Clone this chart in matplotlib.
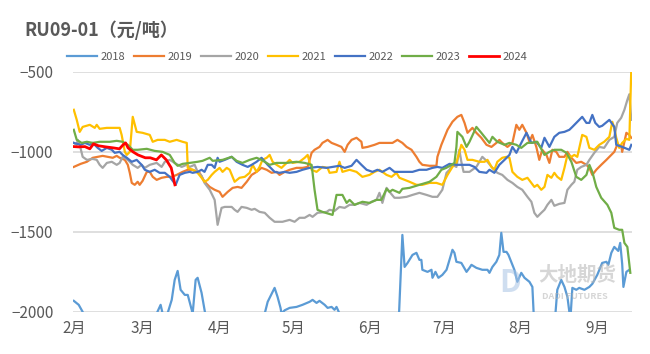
import matplotlib.pyplot as plt

plt.rcParams['font.family'] = ['Noto Sans CJK SC', 'DejaVu Sans']

# x = days since Feb 1, y = spread RU09-01 (yuan/ton)
days_2018 = [0, 2, 3.6, 6.5, 30.8, 33.6, 35.2, 36, 38, 39.7, 40.9, 42.1, 43.3, 45, 46.2, 47.8, 48.2, 49.4,
             50.2, 51.8, 53, 54.3, 63.2, 76, 77.4, 78.6, 81.4, 82.6, 83.8, 84.2, 85.5, 87.5, 90.3, 92.7,
             95.6, 96.8, 98.4, 99.6, 101.7, 102.9, 104.5, 105.7, 106.5, 107.7, 109.8, 128, 131.6, 133.2,
             134.1, 135.3, 137.3, 138.9, 140.1, 140.9, 141.3, 143.4, 145, 145.4, 146.6, 147.8, 149.4,
             151.1, 152.3, 153.5, 154.3, 155.1, 157.1, 159.2, 160.4, 161.2, 163.2, 165.6, 167.7, 168.5,
             169.7, 171.3, 172.5, 173.3, 174.2, 175.4, 176.2, 177.8, 178.6, 179.8, 181.4, 182.7, 184.7,
             185.9, 186.7, 190.8, 194.8, 196, 197.6, 198.9, 200.1, 201.3, 202.1, 203.7, 204.9, 207, 209,
             210.2, 212.2, 214.2, 215.9, 216.7, 217.9, 219.1, 220.7, 221.5, 222.3, 222.8, 224, 225.2]
vals_2018 = [-1931, -1956, -2000, -2150, -2200, -2010, -1956, -2010, -2010, -1925, -1800, -1744, -1862,
             -1894, -1894, -1987, -2010, -1800, -1787, -1881, -1987, -2100, -2200, -2100, -2010, -1937,
             -1850, -1906, -1975, -2010, -1990, -1975, -1969, -1956, -1937, -1925, -1944, -1931, -1956,
             -1975, -1969, -1987, -1969, -2010, -2100, -2200, -2100, -1519, -1719, -1694, -1644, -1631,
             -1675, -1675, -1737, -1750, -1737, -1787, -1750, -1787, -1769, -1737, -1675, -1612, -1631,
             -1687, -1694, -1750, -1725, -1706, -1725, -1737, -1737, -1756, -1719, -1687, -1644, -1506,
             -1625, -1625, -1644, -1706, -1737, -1812, -1756, -1787, -1812, -1844, -2100, -2150, -2100,
             -1862, -1800, -1844, -1906, -2050, -1850, -1862, -1850, -1862, -1844, -1825, -1769, -1694,
             -1687, -1706, -1631, -1594, -1619, -1569, -1700, -1844, -1750, -1737]

days_2019 = [0, 2.8, 5.3, 7.7, 9.7, 11.7, 13.8, 15.8, 17.4, 18.6, 20.7, 21.9, 22.7, 23.5, 24.7, 25.9, 26.7,
             27.9, 29.6, 30.8, 32, 33.6, 35.6, 37.7, 39.7, 41.7, 44.1, 46.2, 48.2, 50.2, 51, 53, 55.1, 57.1,
             59.1, 60.3, 62.4, 64.4, 66.4, 68, 70.1, 72.1, 74.1, 76.1, 78.2, 80.2, 82.2, 83.4, 85.5, 87.5,
             90.3, 92.7, 94.8, 96.4, 97.6, 99.6, 100.8, 102.9, 104.5, 106.5, 108.5, 109.8, 111, 112.6,
             114.6, 116.6, 117, 119.1, 121.9, 123.9, 126.8, 129.2, 131.2, 133.2, 134.9, 136.9, 138.9,
             140.1, 141.3, 144.2, 147, 147.4, 149, 151.5, 153.5, 155.5, 157.1, 158.4, 159.6, 161.6, 163.2,
             165.2, 167.3, 169.3, 171.3, 172.5, 173.7, 175.8, 177.8, 179.4, 180.6, 181.8, 183.5, 184.7,
             185.9, 187.5, 188.7, 189.9, 191.6, 192.8, 194, 195.6, 196.8, 198.9, 200.1, 201.7, 203.7,
             205.7, 207.8, 209, 210.2, 211.8, 213.8, 215.9, 217.9, 219.1, 220.3, 221.9, 222.3, 224, 225.2,
             226]
vals_2019 = [-1094, -1075, -1062, -1037, -1031, -1025, -1031, -1037, -1025, -1037, -1050, -1081, -1131,
             -1194, -1206, -1187, -1206, -1181, -1125, -1125, -1156, -1175, -1162, -1156, -1156, -1144,
             -1125, -1112, -1112, -1125, -1131, -1187, -1219, -1237, -1250, -1281, -1250, -1225, -1219,
             -1225, -1187, -1144, -1125, -1100, -1112, -1131, -1125, -1144, -1125, -1112, -1100, -1100,
             -1094, -1006, -987, -969, -944, -925, -944, -956, -969, -1000, -956, -925, -912, -937, -975,
             -969, -956, -944, -944, -944, -925, -944, -969, -987, -1031, -1062, -1081, -1087, -1087,
             -1031, -956, -862, -812, -781, -769, -819, -881, -850, -881, -912, -956, -969, -944, -925,
             -944, -969, -944, -831, -862, -831, -881, -937, -894, -969, -1050, -987, -1019, -1069, -987,
             -1000, -1031, -1031, -1000, -1037, -1069, -1062, -1081, -1100, -1144, -1112, -1081, -1050,
             -1019, -1000, -956, -962, -1000, -881, -894, -912]

days_2020 = [0, 1.2, 1.6, 2.4, 3.6, 5.3, 7.7, 9.3, 10.5, 11.7, 13.4, 15.4, 17.4, 18.6, 19.8, 21.9, 23.9,
             25.9, 27.5, 28.8, 30.8, 33.6, 35.6, 36.9, 38.9, 40.9, 43.7, 45.8, 47, 49, 50.2, 51.8, 53,
             55.1, 57.1, 58.3, 59.9, 61.2, 64, 65.2, 66.4, 68, 70.1, 72.1, 73.3, 75.3, 77.4, 79.4, 81.4,
             84.6, 87.5, 89.5, 91.5, 93.6, 95.6, 96.8, 98.8, 102.5, 103.7, 105.7, 107.7, 109.8, 111.8,
             113.8, 115.8, 118.7, 120.7, 122.7, 123.9, 125.1, 126.8, 128, 130, 132, 134.9, 137.3, 140.1,
             143, 145.4, 147.4, 149.4, 151.1, 152.3, 153.5, 155.1, 156.3, 157.1, 158, 160.4, 163.2, 165.6,
             167.7, 169.7, 171.7, 173.7, 175.8, 177.8, 179.8, 181.8, 183.9, 185.5, 186.7, 187.9, 189.5,
             190.8, 192, 193.6, 194.8, 196.8, 198.9, 200.1, 201.7, 202.9, 204.1, 205.7, 207.8, 209, 211,
             213, 215, 217.1, 219.1, 220.3, 221.9, 223.2, 224.4, 225.2, 226]
vals_2020 = [-944, -956, -925, -956, -1031, -1050, -1044, -1050, -1081, -1100, -1069, -1062, -1081, -1069,
             -1031, -1050, -1081, -1100, -1081, -1100, -1081, -1069, -1094, -1062, -1050, -1069, -1094,
             -1081, -1094, -1081, -1125, -1150, -1194, -1237, -1300, -1456, -1350, -1344, -1344, -1362,
             -1375, -1344, -1350, -1362, -1356, -1375, -1381, -1412, -1437, -1437, -1425, -1437, -1412,
             -1412, -1394, -1406, -1381, -1375, -1362, -1369, -1344, -1350, -1331, -1331, -1319, -1331,
             -1312, -1300, -1256, -1319, -1225, -1250, -1287, -1287, -1281, -1269, -1256, -1269, -1281,
             -1281, -1237, -1131, -1112, -1081, -1094, -987, -1062, -1125, -1125, -1094, -1031, -1062,
             -1100, -1131, -1144, -1175, -1194, -1219, -1237, -1281, -1312, -1381, -1406, -1381, -1362,
             -1331, -1300, -1337, -1325, -1319, -1237, -1206, -1187, -1112, -1094, -1081, -1050, -1006,
             -969, -975, -925, -906, -819, -787, -737, -675, -640, -800]

days_2021 = [0, 1.2, 2.4, 3.6, 6.5, 8.5, 9.3, 10.5, 13.4, 15.8, 18.6, 19.4, 20.7, 21.5, 22.7, 23.9, 25.5,
             27.9, 30.8, 32, 34, 36.9, 38.9, 41.7, 44.1, 45.8, 46.2, 48.2, 50.2, 51.8, 53, 54.3, 55.9,
             57.1, 59.1, 60.3, 62, 63.2, 64.4, 65.2, 67.2, 69.3, 71.3, 72.5, 74.1, 75.3, 76.5, 78.2, 79.4,
             80.6, 82.2, 84.2, 86.3, 87.5, 88.7, 91.5, 93.6, 94.8, 96.4, 98.4, 100.8, 102.9, 103.7, 106.5,
             107.7, 108.9, 111.8, 114.6, 117, 119.9, 121.9, 123.9, 126.8, 128.8, 130.8, 132, 134.1, 136.1,
             138.9, 141.3, 144.2, 147, 149.4, 151.5, 153.5, 155.1, 157.1, 158.4, 159.6, 161.6, 164.4,
             166.5, 167.7, 169.3, 170.5, 171.7, 173.7, 175.4, 176.6, 177.8, 179.8, 181.8, 183.9, 185.5,
             186.7, 187.9, 189.5, 190.8, 192, 193.6, 194.8, 196, 197.6, 198.9, 200.1, 201.7, 202.9, 204.1,
             206.1, 207.8, 209, 211, 213, 215, 217.1, 218.3, 219.1, 219.9, 221.1, 222.3, 224, 225.2, 226]
vals_2021 = [-737, -800, -875, -844, -831, -850, -831, -856, -850, -850, -850, -894, -1000, -1019, -1000,
             -781, -875, -881, -894, -937, -925, -925, -937, -925, -937, -944, -1100, -1112, -1131, -1162,
             -1187, -1175, -1144, -1125, -1100, -1125, -1100, -1112, -1156, -1187, -1162, -1156, -1131,
             -1081, -1125, -1094, -1050, -1037, -1019, -1062, -1081, -1100, -1069, -1050, -1069, -1062,
             -1037, -1019, -1112, -1125, -1094, -1100, -1131, -1125, -1062, -1125, -1112, -1125, -1156,
             -1144, -1125, -1112, -1144, -1156, -1131, -1162, -1175, -1187, -1206, -1206, -1194, -1194,
             -1206, -1144, -1094, -1069, -956, -987, -1050, -1050, -1062, -1062, -1050, -1094, -1112,
             -1062, -1037, -1031, -1037, -1125, -1156, -1175, -1162, -1194, -1219, -1206, -1237, -1219,
             -1144, -1162, -1131, -1156, -1175, -1100, -1019, -1031, -1019, -1031, -894, -906, -975, -987,
             -956, -937, -906, -812, -850, -912, -975, -944, -919, -925, -480]

days_2022 = [0, 2.8, 4.5, 6.5, 7.7, 9.7, 11.3, 13.4, 15.4, 16.6, 18.6, 19.8, 21.5, 23.5, 25.5, 27.5, 28.8,
             30.8, 32.8, 34.8, 36.9, 38.9, 41.3, 42.9, 45, 47, 48.2, 50.2, 51.8, 53, 54.3, 55.9, 57.1, 58.3,
             59.1, 61.2, 64, 66, 68.4, 70.5, 72.1, 74.1, 76.1, 78.6, 81.4, 83.4, 85.5, 87.5, 90.3, 92.7,
             95.6, 98.8, 102.5, 104.9, 107.7, 109.8, 112.6, 114.6, 116.6, 118.7, 121.1, 123.1, 125.1, 128,
             130, 132, 134.9, 137.3, 140.1, 143, 145.4, 147.4, 149.4, 152.3, 155.1, 157.5, 160.4, 162.4,
             164.4, 167.3, 168.5, 170.5, 172.5, 174.6, 176.6, 177.8, 179.4, 181.4, 183.5, 185.5, 187.5,
             189.5, 190.8, 192.8, 194.8, 196.8, 198.9, 200.9, 202.1, 204.9, 206.1, 207.8, 209, 210.2,
             211.4, 213, 214.2, 217.1, 219.1, 219.9, 222.3, 225.2, 226]
vals_2022 = [-944, -956, -944, -956, -944, -975, -994, -975, -987, -1006, -1000, -1019, -1037, -1062,
             -1050, -1081, -1112, -1125, -1112, -1131, -1131, -1156, -1206, -1144, -1131, -1125, -1131,
             -1125, -1112, -1125, -1081, -1081, -1100, -1037, -1062, -1050, -1031, -1062, -1081, -1094,
             -1081, -1062, -1037, -1081, -1125, -1131, -1125, -1131, -1125, -1112, -1100, -1094, -1100,
             -1094, -1087, -1100, -1087, -1050, -1081, -1112, -1125, -1112, -1125, -1100, -1125, -1125,
             -1125, -1125, -1112, -1112, -1100, -1094, -1100, -1075, -1081, -1081, -1081, -1094, -1125,
             -1131, -1112, -1131, -1081, -1050, -1019, -969, -1006, -944, -881, -944, -937, -975, -912,
             -969, -906, -881, -875, -862, -844, -800, -781, -819, -819, -769, -819, -844, -837, -800, -844,
             -956, -969, -987, -956]

days_2023 = [0, 1.2, 3.2, 5.3, 7.7, 10.5, 14.6, 17.4, 19.8, 21.9, 23.9, 25.9, 29.6, 32.8, 36, 38.9, 40.9,
             42.1, 44.1, 47, 50.2, 52.2, 55.1, 56.3, 60.3, 64, 66, 68.4, 71.3, 74.1, 76.1, 79.4, 82.2, 86.3,
             90.3, 93.6, 96.4, 97.6, 98.8, 100.8, 104.9, 106.5, 108.9, 110.6, 111.8, 113.8, 117, 119.9,
             122.7, 124.7, 126.8, 128, 129.2, 132, 133.2, 136.1, 140.1, 144.2, 147, 149, 151, 153.1, 154.3,
             155.1, 155.5, 157.5, 159.2, 160.4, 163.2, 165.2, 166.5, 168.5, 169.7, 171.7, 174.6, 176.6,
             179.4, 181.4, 183.9, 185.9, 187.9, 190.8, 192.8, 194.8, 197.6, 199.7, 201.7, 203.7, 205.7,
             207.8, 209, 210.2, 211.8, 213.8, 216.3, 217.9, 219.1, 221.1, 222.3, 223.2, 224.4, 225.6]
vals_2023 = [-862, -925, -944, -937, -944, -937, -937, -931, -937, -956, -987, -987, -981, -994, -1000,
             -1019, -1069, -1087, -1075, -1069, -1062, -1056, -1037, -1056, -1050, -1031, -1056, -1069,
             -1050, -1037, -1050, -1081, -1069, -1069, -1062, -1069, -1081, -1237, -1362, -1375, -1394,
             -1269, -1269, -1319, -1300, -1331, -1312, -1319, -1300, -1300, -1231, -1250, -1237, -1256,
             -1231, -1225, -1206, -1187, -1156, -1112, -1100, -1081, -1069, -969, -875, -906, -969, -937,
             -844, -881, -906, -944, -906, -937, -956, -944, -956, -975, -944, -943, -937, -1019, -1000,
             -987, -987, -1006, -1062, -1156, -1175, -1144, -1081, -1125, -1219, -1287, -1331, -1381,
             -1475, -1487, -1487, -1569, -1594, -1756]

days_2024 = [0, 2, 4.5, 6.5, 8, 10, 13, 16, 18.5, 20, 21, 22, 24, 26, 29, 31, 33.5, 35.5, 37.5, 39.5, 41]
vals_2024 = [-967, -969, -967, -981, -950, -962, -969, -975, -981, -956, -944, -975, -1000, -1019, -1037,
             -1037, -1050, -1019, -1050, -1100, -1206]

month_days = [0, 28, 59, 89, 120, 150, 181, 212]
month_labels = ['2月', '3月', '4月', '5月', '6月', '7月', '8月', '9月']

series = [
    ('2018', days_2018, vals_2018, '#5B9BD5', 1.6),
    ('2019', days_2019, vals_2019, '#ED7D31', 1.6),
    ('2020', days_2020, vals_2020, '#A5A5A5', 1.6),
    ('2021', days_2021, vals_2021, '#FFC000', 1.6),
    ('2022', days_2022, vals_2022, '#4472C4', 1.6),
    ('2023', days_2023, vals_2023, '#70AD47', 1.6),
    ('2024', days_2024, vals_2024, '#FF0000', 2.0),
]

fig = plt.figure(figsize=(6.5, 3.54), dpi=100)
ax = fig.add_axes([0.112, 0.119, 0.860, 0.678])

for name, x, y, color, lw in series:
    ax.plot(x, y, color=color, lw=lw, label=name, solid_joinstyle='round')

ax.set_ylim(-2000, -500)
ax.set_xlim(-0.4, 226.2)
ax.set_yticks([-2000, -1500, -1000, -500])
ax.set_xticks(month_days)
ax.set_xticklabels(month_labels)
ax.grid(axis='y', color='#D9D9D9', lw=1.2)
ax.set_axisbelow(True)
for s in ax.spines.values():
    s.set_visible(False)
ax.tick_params(length=0, labelsize=11, colors='#595959')
ax.tick_params(axis='y', pad=14)
ax.tick_params(axis='x', pad=6)

fig.text(0.038, 0.915, 'RU09-01（元/吨）', fontsize=13, fontweight='bold', color='#595959', va='center')

fig.legend(loc='center', bbox_to_anchor=(0.457, 0.839), ncol=7, frameon=False, fontsize=8,
           handlelength=2.7, handletextpad=0.35, columnspacing=0.75, labelcolor='#595959')

# watermark
fig.text(0.888, 0.222, '大地期货', fontsize=14, fontweight='bold', color='#B5B5B5', alpha=0.55,
         ha='center', va='center')
fig.text(0.885, 0.162, 'DADI FUTURES', fontsize=6.5, fontweight='bold', color='#B5B5B5', alpha=0.55,
         ha='center', va='center')
fig.text(0.785, 0.2, 'D', fontsize=22, fontweight='bold', color='#A9C4E4', alpha=0.55,
         ha='center', va='center')

fig.savefig('out.png', dpi=100)
